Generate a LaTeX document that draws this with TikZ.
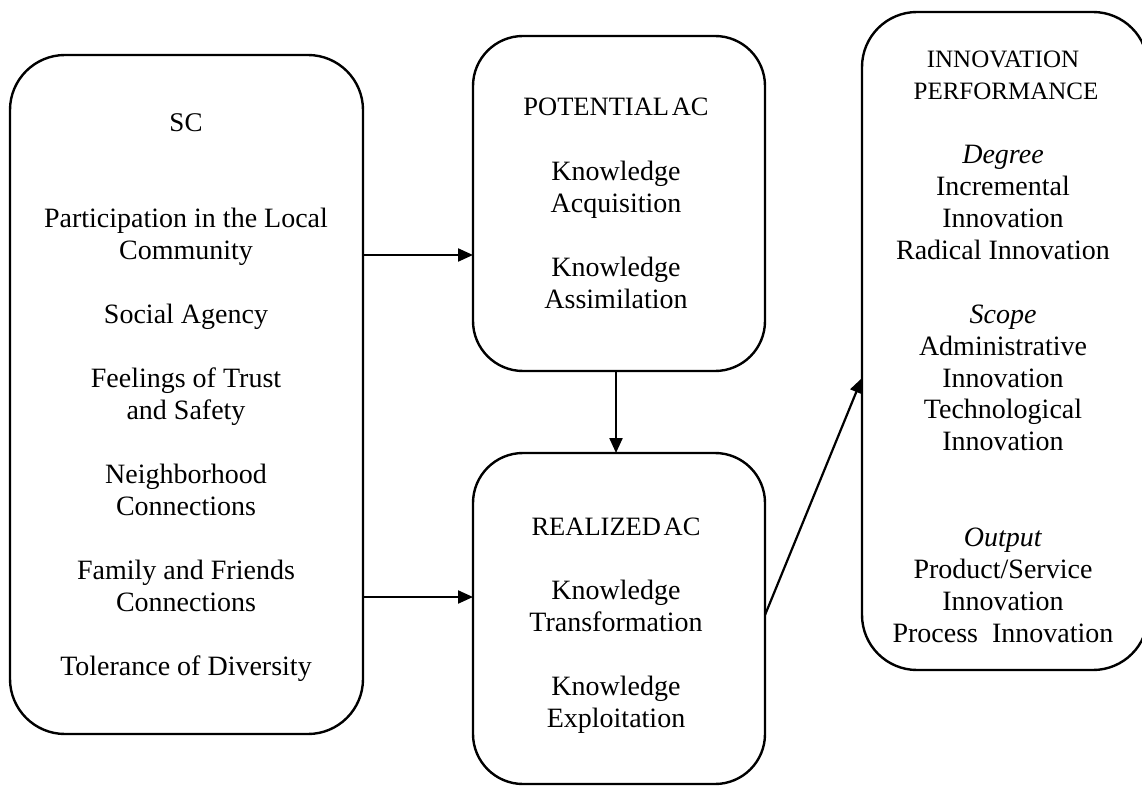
\documentclass[tikz,border=0pt]{standalone}
\usepackage{fontspec}
\setmainfont{Liberation Serif}
\usetikzlibrary{arrows.meta}
\begin{document}
\begin{tikzpicture}[x=1pt,y=-1pt,
  box/.style={draw, line width=2.4pt, rounded corners=#1, inner sep=0pt, outer sep=0pt},
  txt/.style={font=\fontsize{28}{32}\selectfont, anchor=base, inner sep=0pt},
  ttl/.style={font=\fontsize{25}{32}\selectfont, anchor=base, inner sep=0pt},
  acttl/.style={font=\fontsize{26.5}{32}\selectfont, anchor=base, inner sep=0pt},
  conn/.style={line width=2.2pt, -{Triangle[length=15pt,width=13pt]}}]
\useasboundingbox (0,0) rectangle (1142,786);
% boxes
\node[box=55pt, minimum width=353pt, minimum height=679pt] (sc) at (186.5,394.5) {};
\node[box=50pt, minimum width=292pt, minimum height=335pt] (pot) at (619,203.5) {};
\node[box=50pt, minimum width=292pt, minimum height=331pt] (real) at (619,618.5) {};
\node[box=55pt, minimum width=286pt, minimum height=658pt] (inn) at (1005,341) {};
% SC texts
\node[ttl, font=\fontsize{27}{32}\selectfont] (scT) at (186,132) {SC};
\foreach \t/\y [count=\i] in {Participation in the Local/227.8, Community/259.8,
  Social Agency/323.6, Feelings of Trust/387.5, and Safety/419.5,
  Neighborhood/483.4, Connections/515.3, Family and Friends/579.2,
  Connections/611.1, Tolerance of Diversity/675}
  \node[txt] (sc\i) at (186,\y) {\t};
% potential
\node[acttl] (potT) at (616,116) {POTENTIAL\kern-0.15em{} AC};
\foreach \t/\y [count=\i] in {Knowledge/180.5, Acquisition/212.4, Knowledge/276.2, Assimilation/308.1}
  \node[txt] (pot\i) at (616,\y) {\t};
% realized
\node[acttl] (realT) at (616,535.9) {REALIZED\kern-0.15em{} AC};
\foreach \t/\y [count=\i] in {Knowledge/599.7, Transformation/631.6, Knowledge/695.4, Exploitation/727.3}
  \node[txt] (real\i) at (616,\y) {\t};
% innovation
\node[ttl] (innT1) at (1003,68) {INNOVATION};
\node[ttl] (innT2) at (1006,99.9) {PERFORMANCE};
\foreach \t/\y [count=\i] in {\textit{Degree}/163.7, Incremental/195.6, Innovation/227.5,
  Radical Innovation/259.4, \textit{Scope}/323.2, Administrative/355.1, Innovation/387,
  Technological/418.9, Innovation/450.8, \textit{Output}/546.5, {Product/Service}/578.4,
  Innovation/610.3, Process\ \ Innovation/642.2}
  \node[txt] (inn\i) at (1003,\y) {\t};
% connectors
\coordinate (y1) at (0,255);
\coordinate (y2) at (0,597);
\coordinate (x3) at (616,0);
\coordinate (p4) at (0,615);
\coordinate (q4) at (0,378);
\draw[conn] (sc.east |- y1) -- (pot.west |- y1);
\draw[conn] (sc.east |- y2) -- (real.west |- y2);
\draw[conn] (pot.south -| x3) -- (real.north -| x3);
\draw[conn] (real.east |- p4) -- (inn.west |- q4);
\end{tikzpicture}
\end{document}
